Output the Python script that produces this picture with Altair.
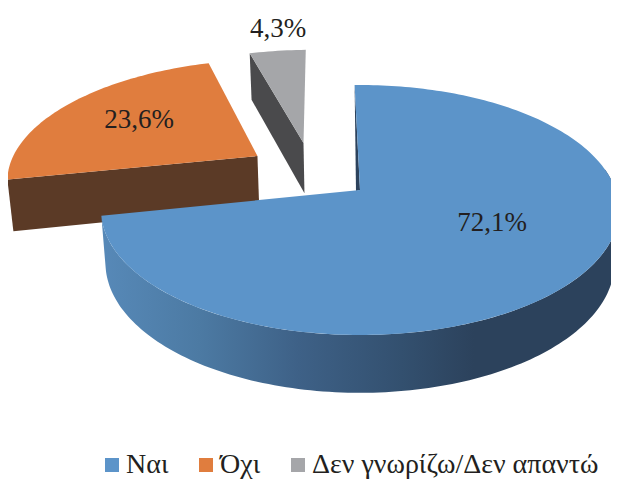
import math
import altair as alt
import pandas as pd

categories = ["Ναι", "Όχι", "Δεν γνωρίζω/Δεν απαντώ"]
shares = [72.1, 23.6, 4.3]
share_labels = ["72,1%", "23,6%", "4,3%"]
face_colors = ["#5c94c9", "#e07d3e", "#a5a6a9"]
side_colors = ["#2c425c", "#5b3a26", "#4a4a4c"]

FONT = "Liberation Serif"
TEXT = "#231f20"
W, H = 603, 471

# perspective view of the pie plane
XC, YC, GX, GY, K = 360.0, 190.0, 255.6, 121.8, 0.16
START = -1.4
EXPLODE = [(0.0, 0.0), (-0.42, 0.292), (-0.2356, 0.411)]
LABEL_AT = [(492, 223), (139, 120), (278, 29)]


def project(px, py):
    d = 1 + K * py
    return XC + GX * px / d, YC - GY * py / d


def rim(deg, dx, dy):
    a = math.radians(deg)
    return project(math.sin(a) + dx, math.cos(a) + dy)


def drop(p):
    x, y = p
    return XC + (x - XC) * 0.983, y + 52 + (y - YC) * 0.04


def arc(a0, a1, dx, dy):
    n = max(2, int(abs(a1 - a0) / 1.2))
    return [rim(a0 + (a1 - a0) * i / n, dx, dy) for i in range(n + 1)]


def frame(points, **extra):
    pts = points + [points[0]]
    return pd.DataFrame(
        [{"x": p[0], "y": p[1], "i": i, **extra} for i, p in enumerate(pts)]
    )


spans = []
a = START
for s in shares:
    spans.append((a, a + s * 3.6))
    a += s * 3.6

faces = []
for k, (c, (a0, a1), (dx, dy)) in enumerate(zip(categories, spans, EXPLODE)):
    apex = project(dx, dy)
    faces.append(frame([apex] + arc(a0, a1, dx, dy), cat=c))
face_df = pd.concat(faces, ignore_index=True)

xs = alt.X("x:Q", scale=alt.Scale(domain=[8, 8 + W], range=[0, W]), axis=None)
ys = alt.Y("y:Q", scale=alt.Scale(domain=[8, 8 + H], range=[0, H]), axis=None)


def poly(points, fill):
    return (
        alt.Chart(frame(points))
        .mark_line(fill=fill, strokeWidth=0, stroke=None, clip=False)
        .encode(x=xs, y=ys, order="i:Q")
    )


# side walls
o0, o1 = spans[1]
odx, ody = EXPLODE[1]
o_out, o_apex = rim(o0, odx, ody), project(odx, ody)
orange_wall = poly([o_out, o_apex, drop(o_apex), drop(o_out)], side_colors[1])

g0, g1 = spans[2]
gdx, gdy = EXPLODE[2]
g_out, g_apex = rim(g0, gdx, gdy), project(gdx, gdy)
gray_wall = poly([g_out, g_apex, drop(g_apex), drop(g_out)], side_colors[2])

b0, b1 = spans[0]
front = arc(80, b1, 0, 0)
blue_grad = alt.Gradient(
    gradient="linear",
    x1=0, x2=1, y1=0, y2=0,
    stops=[
        alt.GradientStop(color="#5789b8", offset=0),
        alt.GradientStop(color="#4c7aa3", offset=0.19),
        alt.GradientStop(color="#3e6187", offset=0.38),
        alt.GradientStop(color="#33506f", offset=0.58),
        alt.GradientStop(color="#2c425c", offset=0.72),
        alt.GradientStop(color="#2c425c", offset=1),
    ],
)
blue_wall = poly(front + [drop(p) for p in reversed(front)], blue_grad)
b_apex = project(0, 0)
blue_sliver = poly(
    [rim(b0, 0, 0), b_apex, (b_apex[0] - 4, b_apex[1] + 1)], side_colors[0]
)

face_layer = (
    alt.Chart(face_df)
    .mark_line(strokeWidth=0, clip=False)
    .encode(
        x=xs,
        y=ys,
        order="i:Q",
        fill=alt.Fill(
            "cat:N",
            scale=alt.Scale(domain=categories, range=face_colors),
            legend=alt.Legend(
                title=None,
                orient="none",
                legendX=90,
                legendY=443,
                direction="horizontal",
                columns=3,
                symbolType="square",
                symbolSize=196,
                symbolStrokeWidth=0,
                labelFont=FONT,
                labelFontSize=28,
                labelColor=TEXT,
                labelOffset=0,
                columnPadding=23,
                padding=0,
                labelLimit=400,
            ),
        ),
    )
)

label_df = pd.DataFrame(
    {"x": [p[0] for p in LABEL_AT], "y": [p[1] for p in LABEL_AT], "t": share_labels}
)
labels = (
    alt.Chart(label_df)
    .mark_text(font=FONT, fontSize=27, color=TEXT, align="center", baseline="middle")
    .encode(x=xs, y=ys, text="t:N")
)

chart = (
    alt.layer(gray_wall, orange_wall, blue_wall, blue_sliver, face_layer, labels)
    .resolve_scale(fill="independent")
    .properties(
        width=W,
        height=H,
        padding=0,
        autosize=alt.AutoSizeParams(type="none"),
        background="#ffffff",
    )
    .configure_view(stroke=None)
)

chart.save("out.html", embed_options={"renderer": "svg", "actions": False})
